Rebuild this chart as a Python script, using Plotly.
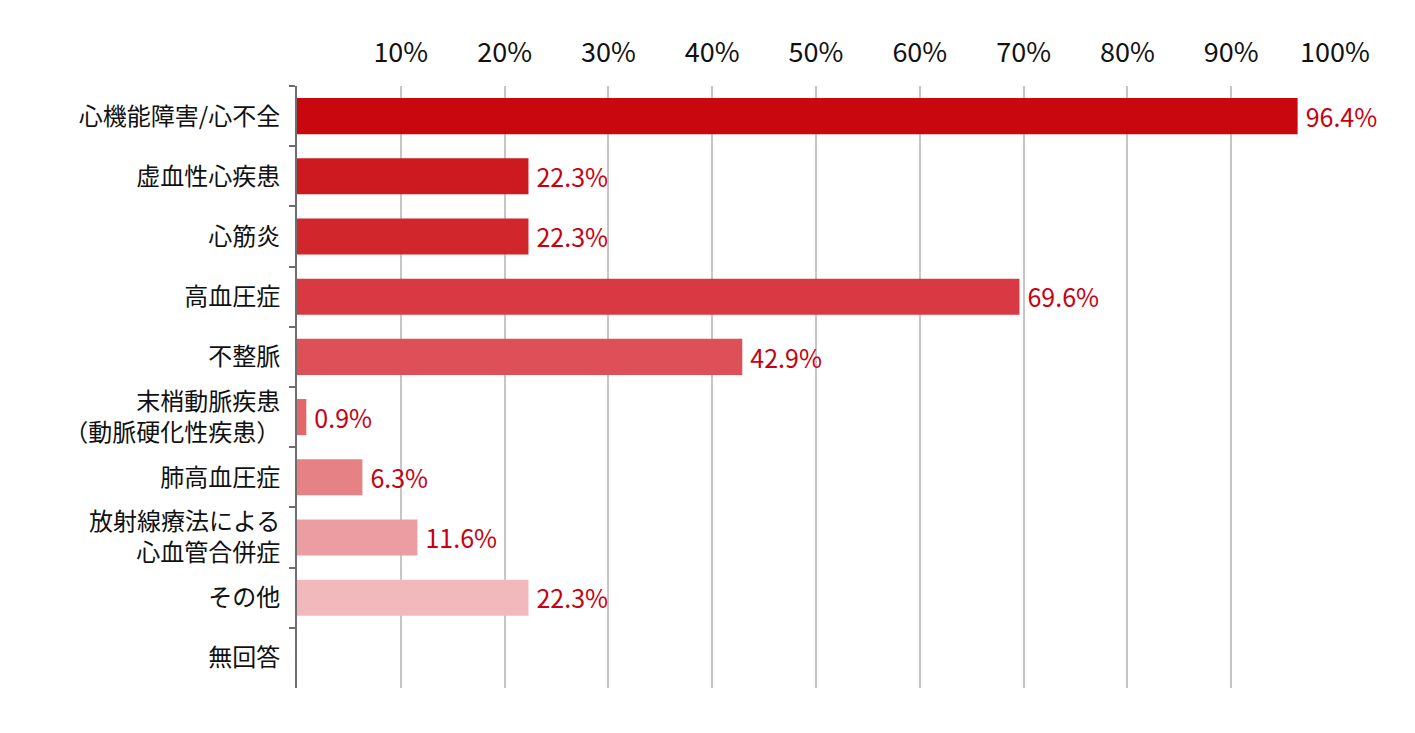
import plotly.graph_objects as go

categories = [
    "心機能障害/心不全",
    "虚血性心疾患",
    "心筋炎",
    "高血圧症",
    "不整脈",
    "末梢動脈疾患<br>（動脈硬化性疾患）",
    "肺高血圧症",
    "放射線療法による<br>心血管合併症",
    "その他",
    "無回答",
]
values = [96.4, 22.3, 22.3, 69.6, 42.9, 0.9, 6.3, 11.6, 22.3, 0]
labels = ["96.4%", "22.3%", "22.3%", "69.6%", "42.9%", "0.9%", "6.3%", "11.6%", "22.3%", ""]
colors = ["#C8070F", "#CD1A20", "#D2262D", "#D83942", "#DE5058", "#E2676D",
          "#E68186", "#EC9DA2", "#F2B9BC", "#F5CCCE"]
tick_vals = [10, 20, 30, 40, 50, 60, 70, 80, 90, 100]
tick_text = ["10%", "20%", "30%", "40%", "50%", "60%", "70%", "80%", "90%", "100%"]

FONT = "Noto Sans CJK JP"

fig = go.Figure(go.Bar(
    x=values,
    y=categories,
    orientation="h",
    marker=dict(color=colors, line=dict(width=0)),
    width=0.6,
    text=["\u2009" + t if t else "" for t in labels],
    textposition="outside",
    textfont=dict(family=FONT, size=27, color="#C8000F"),
    cliponaxis=False,
))

fig.update_layout(
    width=1415, height=733,
    margin=dict(l=289, r=88, t=78, b=53, autoexpand=False),
    paper_bgcolor="white", plot_bgcolor="white",
    showlegend=False,
    font=dict(family=FONT, color="#111111"),
    xaxis=dict(
        side="top", range=[0, 100], tickvals=tick_vals, ticktext=tick_text,
        showgrid=True, gridcolor="#C6C6C6", gridwidth=2,
        zeroline=False, showline=False, ticks="",
        tickfont=dict(family=FONT, size=27, color="#111111"),
        ticklabelstandoff=18, automargin=False,
    ),
    yaxis=dict(
        autorange="reversed", type="category",
        showline=True, linecolor="#6E6E6E", linewidth=2,
        ticks="outside", tickson="boundaries", ticklen=6, tickcolor="#6E6E6E", tickwidth=2,
        tickfont=dict(family=FONT, size=24, color="#111111"),
        ticklabelstandoff=10, automargin=False,
    ),
)

fig.write_html("out.html")
